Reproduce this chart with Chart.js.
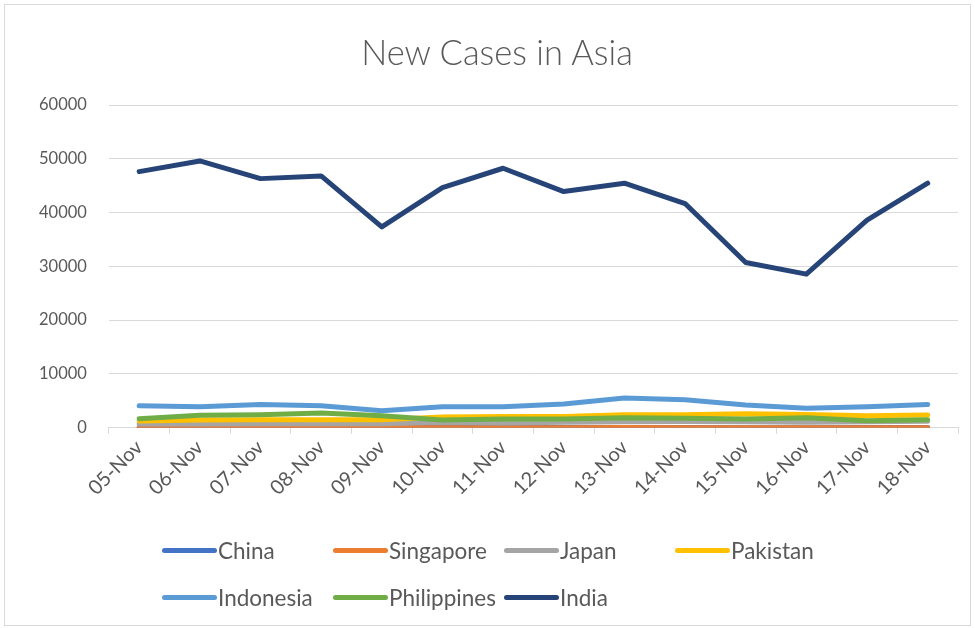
<!DOCTYPE html>
<html>
<head>
<meta charset="utf-8">
<script src="https://cdn.jsdelivr.net/npm/chart.js@4.4.1/dist/chart.umd.min.js"></script>
<style>
    html, body { margin: 0; padding: 0; background: #fff; }
    #wrap {
        position: relative;
        width: 975px;
        height: 628px;
    }
    #frame {
        position: absolute;
        left: 4px;
        top: 4px;
        right: 4px;
        bottom: 2px;
        border: 1px solid #d9d9d9;
        pointer-events: none;
    }
    #title {
        position: absolute;
        left: 0;
        top: 31px;
        width: 994px;
        text-align: center;
        line-height: 41px;
        font-family: Lato, "Open Sans", sans-serif;
        font-weight: 300;
        font-size: 34.5px;
        color: #595959;
    }
    #legend {
        position: absolute;
        left: 162px;
        top: 536px;
        display: grid;
        grid-template-columns: 171px 171px 171px 171px;
        row-gap: 18px;
        font-family: Lato, "Open Sans", sans-serif;
        font-size: 22.5px;
        color: #595959;
    }
    .item { display: flex; align-items: center; height: 29px; white-space: nowrap; }
    .swatch { width: 55px; height: 5px; border-radius: 3px; margin-right: 1px; }
</style>
</head>
<body>
<div id="wrap">
    <canvas id="chart" width="975" height="628"></canvas>
    <div id="frame"></div>
    <div id="title">New Cases in Asia</div>
    <div id="legend"></div>
</div>
<script>
const categories = ["05-Nov", "06-Nov", "07-Nov", "08-Nov", "09-Nov", "10-Nov", "11-Nov",
    "12-Nov", "13-Nov", "14-Nov", "15-Nov", "16-Nov", "17-Nov", "18-Nov"]

const china = [25, 33, 30, 45, 41, 21, 23, 12, 20, 16, 8, 9, 12, 17]
const singapore = [8, 6, 4, 5, 10, 7, 9, 6, 12, 5, 4, 8, 6, 5]
const japan = [700, 680, 740, 740, 740, 990, 870, 990, 1110, 1150, 1100, 1000, 1100, 1200]
const pakistan = [1250, 1420, 1490, 1490, 1490, 2000, 2100, 2100, 2410, 2410, 2600, 2470, 2230, 2360]
const indonesia = [4090, 3900, 4330, 4090, 3160, 3900, 3900, 4400, 5520, 5200, 4210, 3590, 3900, 4330]
const philippines = [1650, 2290, 2410, 2730, 2230, 1430, 1610, 1610, 1860, 1730, 1610, 1860, 1300, 1490]
const india = [47610, 49600, 46310, 46810, 37340, 44640, 48240, 43900, 45460, 41670, 30710, 28550, 38580, 45460]

const yTicks = [0, 10000, 20000, 30000, 40000, 50000, 60000]

const series = [
    { label: "China", data: china, color: "#4472C4" },
    { label: "Singapore", data: singapore, color: "#ED7D31" },
    { label: "Japan", data: japan, color: "#A5A5A5" },
    { label: "Pakistan", data: pakistan, color: "#FFC000" },
    { label: "Indonesia", data: indonesia, color: "#5B9BD5" },
    { label: "Philippines", data: philippines, color: "#70AD47" },
    { label: "India", data: india, color: "#264478" },
]

const FONT = "Lato, 'Open Sans', sans-serif"
const TEXT = "#595959"
const GRID = "#d9d9d9"

// excel draws later series on top, chart.js does the opposite -> flip with order
const datasets = series.map((s, i) => ({
    label: s.label,
    data: s.data,
    borderColor: s.color,
    backgroundColor: s.color,
    borderWidth: 5,
    borderCapStyle: "round",
    borderJoinStyle: "round",
    pointRadius: 0,
    tension: 0,
    fill: false,
    order: series.length - i,
}))

let ctx = document.getElementById("chart").getContext("2d")

new Chart(ctx, {
    type: "line",
    data: {
        labels: categories,
        datasets,
    },
    options: {
        responsive: false,
        animation: false,
        layout: {
            // title is the html div above, so the top padding leaves room for it
            padding: { top: 105, left: 17, right: 17, bottom: 126 },
        },
        plugins: {
            legend: { display: false },
            tooltip: { enabled: false },
            title: { display: false },
        },
        scales: {
            x: {
                offset: true,
                grid: {
                    display: true,
                    offset: true,
                    drawOnChartArea: false,
                    drawTicks: true,
                    tickLength: 6,
                    color: GRID,
                },
                border: { display: true, color: GRID },
                ticks: {
                    color: TEXT,
                    font: { family: FONT, size: 20 },
                    maxRotation: 45,
                    minRotation: 45,
                    padding: 2,
                    autoSkip: false,
                },
            },
            y: {
                min: 0,
                max: 60000,
                afterBuildTicks: (axis) => {
                    axis.ticks = yTicks.map((v) => ({ value: v }))
                },
                grid: {
                    color: GRID,
                    drawTicks: false,
                },
                border: { display: false },
                ticks: {
                    color: TEXT,
                    font: { family: FONT, size: 16.5 },
                    padding: 22,
                    callback: (val) => String(val),
                },
            },
        },
    },
})

// legend laid out in fixed columns like the excel one
const legendEl = document.getElementById("legend")
series.forEach((s) => {
    const item = document.createElement("div")
    item.className = "item"
    const sw = document.createElement("span")
    sw.className = "swatch"
    sw.style.background = s.color
    const txt = document.createElement("span")
    txt.textContent = s.label
    item.appendChild(sw)
    item.appendChild(txt)
    legendEl.appendChild(item)
})
</script>
</body>
</html>
